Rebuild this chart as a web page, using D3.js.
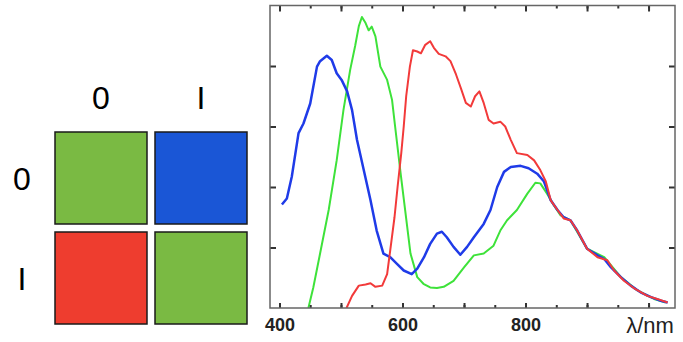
<!DOCTYPE html>
<html>
<head>
<meta charset="utf-8">
<script src="https://cdn.jsdelivr.net/npm/d3@7"></script>
<style>
  body { margin: 0; background: #fff; }
  svg { display: block; }
</style>
</head>
<body>
<svg id="chart" width="683" height="342"></svg>
<script>
// grid of colours
const cols = ['0', 'I']
const rows = ['0', 'I']
const cellColours = [['#7aba43', '#1a56d6'], ['#ee3d2f', '#7aba43']]

// spectra (nm, value)
const blueNm = [404, 412, 420, 431, 439, 450, 461, 466, 477, 485, 493, 501, 510, 518, 526, 537, 548, 558, 569, 580, 591, 602, 615, 624, 635, 645, 656, 664, 672, 683, 694, 705, 716, 732, 743, 754, 765, 776, 792, 805, 819, 830, 841, 852, 862, 873, 884, 900, 917, 928, 939, 955, 971, 987, 1004, 1020, 1031]
const blueVal = [1.71, 1.81, 2.17, 2.89, 3.05, 3.38, 3.99, 4.08, 4.17, 4.10, 3.88, 3.77, 3.58, 3.27, 2.78, 2.28, 1.78, 1.28, 0.90, 0.84, 0.73, 0.62, 0.56, 0.65, 0.84, 1.06, 1.23, 1.26, 1.17, 1.01, 0.88, 1.01, 1.17, 1.39, 1.62, 2.00, 2.25, 2.33, 2.35, 2.31, 2.22, 2.09, 1.78, 1.62, 1.50, 1.45, 1.28, 0.98, 0.87, 0.81, 0.67, 0.51, 0.37, 0.26, 0.18, 0.12, 0.09]

const greenNm = [447, 455, 466, 480, 493, 504, 515, 523, 529, 534, 540, 545, 550, 556, 564, 575, 583, 588, 597, 605, 613, 624, 634, 645, 656, 667, 683, 700, 716, 732, 748, 759, 770, 786, 803, 816, 824, 835, 846, 857, 873, 900, 928, 955, 982, 1009, 1028]
const greenVal = [0, 0.34, 0.90, 1.62, 2.44, 3.27, 3.94, 4.33, 4.66, 4.81, 4.71, 4.59, 4.65, 4.49, 3.99, 3.77, 3.44, 3.00, 2.22, 1.56, 0.90, 0.51, 0.40, 0.34, 0.33, 0.35, 0.45, 0.67, 0.87, 0.90, 1.03, 1.28, 1.45, 1.62, 1.89, 2.07, 2.06, 1.89, 1.70, 1.53, 1.45, 0.98, 0.84, 0.51, 0.29, 0.15, 0.09]

const redNm = [509, 518, 529, 540, 548, 556, 567, 575, 580, 587, 592, 598, 602, 606, 612, 617, 624, 630, 637, 645, 651, 659, 670, 678, 687, 695, 703, 711, 718, 725, 732, 740, 748, 759, 767, 776, 786, 803, 814, 824, 833, 841, 852, 862, 873, 884, 900, 917, 933, 944, 960, 976, 998, 1014, 1031]
const redVal = [0, 0.20, 0.37, 0.39, 0.41, 0.35, 0.37, 0.56, 0.95, 1.50, 2.00, 2.56, 3.00, 3.50, 3.99, 4.26, 4.24, 4.21, 4.35, 4.41, 4.30, 4.20, 4.16, 4.08, 3.86, 3.63, 3.39, 3.33, 3.50, 3.58, 3.39, 3.11, 3.05, 3.08, 3.00, 2.78, 2.56, 2.53, 2.44, 2.28, 2.09, 1.78, 1.62, 1.48, 1.45, 1.28, 0.98, 0.84, 0.79, 0.62, 0.45, 0.33, 0.20, 0.15, 0.09]

const xLabels = { 400: '400', 600: '600', 800: '800', 1000: 'λ/nm' }

const svg = d3.select('#chart')

// ---- colour grid ----
const gx = d3.scaleBand().domain(cols).range([55, 247]).paddingInner(0.08)
const gy = d3.scaleBand().domain(rows).range([132, 324]).paddingInner(0.08)

const cells = []
rows.forEach((r, i) => cols.forEach((c, j) => cells.push({ r, c, fill: cellColours[i][j] })))

svg.append('g')
  .selectAll('rect')
  .data(cells)
  .enter()
  .append('rect')
  .attr('x', d => gx(d.c))
  .attr('y', d => gy(d.r))
  .attr('width', gx.bandwidth())
  .attr('height', gy.bandwidth())
  .attr('fill', d => d.fill)
  .attr('stroke', '#1a1a1a')
  .attr('stroke-width', 1.5)

svg.append('g')
  .selectAll('text')
  .data(cols)
  .enter()
  .append('text')
  .attr('x', d => gx(d) + gx.bandwidth() / 2)
  .attr('y', 109)
  .attr('text-anchor', 'middle')
  .style('font', '32px "Liberation Sans", Arial, sans-serif')
  .text(d => d)

svg.append('g')
  .selectAll('text')
  .data(rows)
  .enter()
  .append('text')
  .attr('x', 22)
  .attr('y', d => gy(d) + gy.bandwidth() / 2 + 12)
  .attr('text-anchor', 'middle')
  .style('font', '32px "Liberation Sans", Arial, sans-serif')
  .text(d => d)

// ---- spectrum plot ----
const plotLeft = 270, plotRight = 675, plotTop = 5.5, plotBottom = 308
const xScale = d3.scaleLinear().domain([384.6, 1043]).range([plotLeft, plotRight])
const yScale = d3.scaleLinear().domain([0, 5]).range([plotBottom, plotTop])

svg.append('clipPath').attr('id', 'clip')
  .append('rect')
  .attr('x', plotLeft).attr('y', plotTop)
  .attr('width', plotRight - plotLeft).attr('height', plotBottom - plotTop)

const line = d3.line()
  .x(d => xScale(d[0]))
  .y(d => yScale(d[1]))

const series = [
  { nm: greenNm, val: greenVal, colour: '#3ee23a', w: 2 },
  { nm: blueNm, val: blueVal, colour: '#1f3be8', w: 2.5 },
  { nm: redNm, val: redVal, colour: '#f23a3a', w: 2 }
]

svg.append('g')
  .attr('clip-path', 'url(#clip)')
  .selectAll('path')
  .data(series)
  .enter()
  .append('path')
  .attr('fill', 'none')
  .attr('stroke', d => d.colour)
  .attr('stroke-width', d => d.w)
  .attr('stroke-linejoin', 'round')
  .attr('d', d => line(d.nm.map((n, i) => [n, d.val[i]])))

const minorX = d3.range(400, 1001, 50)
const majorX = d3.range(400, 1001, 100)
const yTicks = [1, 2, 3, 4]

function styleAxis(g) {
  g.select('.domain').remove()
  g.selectAll('.tick line').attr('stroke', '#333').attr('stroke-width', 2)
}

// minor ticks top/bottom
svg.append('g').attr('transform', `translate(0,${plotBottom})`)
  .call(d3.axisBottom(xScale).tickValues(minorX).tickSize(-3).tickFormat(''))
  .call(styleAxis)
svg.append('g').attr('transform', `translate(0,${plotTop})`)
  .call(d3.axisTop(xScale).tickValues(minorX).tickSize(-3).tickFormat(''))
  .call(styleAxis)

// major ticks top/bottom
svg.append('g').attr('transform', `translate(0,${plotTop})`)
  .call(d3.axisTop(xScale).tickValues(majorX).tickSize(-6).tickFormat(''))
  .call(styleAxis)
const bottomAxis = svg.append('g').attr('transform', `translate(0,${plotBottom})`)
  .call(d3.axisBottom(xScale).tickValues(majorX).tickSize(-5).tickPadding(10)
    .tickFormat(d => xLabels[d] || ''))
  .call(styleAxis)
bottomAxis.selectAll('text')
  .attr('fill', '#222')
  .style('font', 'bold 18px "Liberation Sans", Arial, sans-serif')
bottomAxis.selectAll('.tick')
  .filter(d => d === 1000)
  .select('text')
  .style('font', '22px "Liberation Sans", Arial, sans-serif')
  .attr('dx', 1)
  .attr('dy', '0.68em')

// y ticks left/right
svg.append('g').attr('transform', `translate(${plotLeft},0)`)
  .call(d3.axisLeft(yScale).tickValues(yTicks).tickSize(-6).tickFormat(''))
  .call(styleAxis)
svg.append('g').attr('transform', `translate(${plotRight},0)`)
  .call(d3.axisRight(yScale).tickValues(yTicks).tickSize(-6).tickFormat(''))
  .call(styleAxis)

// frame
svg.append('rect')
  .attr('x', plotLeft).attr('y', plotTop)
  .attr('width', plotRight - plotLeft).attr('height', plotBottom - plotTop)
  .attr('fill', 'none')
  .attr('stroke', '#666')
  .attr('stroke-width', 1.5)
</script>
</body>
</html>
